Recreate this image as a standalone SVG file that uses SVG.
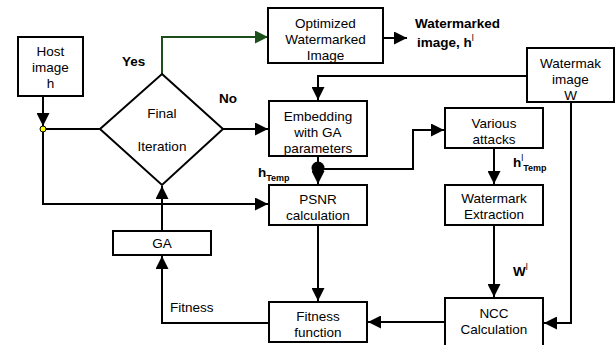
<svg xmlns="http://www.w3.org/2000/svg" width="616" height="345" viewBox="0 0 616 345">
<style>
.box{fill:#fff;stroke:#000;stroke-width:2}
.t{font-family:"Liberation Sans",Arial,sans-serif;font-size:13.5px;fill:#000;text-anchor:middle}
.b{font-family:"Liberation Sans",Arial,sans-serif;font-size:13.5px;font-weight:bold;fill:#000}
.c{fill:none;stroke:#000;stroke-width:2}
.g{fill:none;stroke:#1d4f1d;stroke-width:2}
</style>
<defs>
<marker id="ah" viewBox="0 0 13 13" refX="13" refY="6.5" markerWidth="13" markerHeight="13" markerUnits="userSpaceOnUse" orient="auto"><path d="M0,0 L13,6.5 L0,13 z" fill="#000"/></marker>
<marker id="ahg" viewBox="0 0 13 13" refX="13" refY="6.5" markerWidth="13" markerHeight="13" markerUnits="userSpaceOnUse" orient="auto"><path d="M0,0 L13,6.5 L0,13 z" fill="#1d4f1d"/></marker>
<clipPath id="clipOpt"><rect x="268" y="8" width="115" height="55"/></clipPath>
<clipPath id="clipEmb"><rect x="269" y="101" width="98" height="55"/></clipPath>
</defs>
<g id="connectors">
<path class="c" d="M43,96 V126" marker-end="url(#ah)"/>
<path class="c" d="M43,129 H100"/>
<path class="c" d="M43,129 V204 H268" marker-end="url(#ah)"/>
<path class="g" d="M162,74 V37 H268" marker-end="url(#ahg)"/>
<path class="c" d="M223,129 H268" marker-end="url(#ah)"/>
<path class="c" d="M383,38 H407" marker-end="url(#ah)"/>
<path class="c" d="M527,76 H318 V100" marker-end="url(#ah)"/>
<path class="c" d="M318,156 V184" marker-end="url(#ah)"/>
<circle cx="318" cy="168" r="6.5" fill="#000"/>
<path class="c" d="M318,169 H413 V130 H444" marker-end="url(#ah)"/>
<path class="c" d="M494,148 V184" marker-end="url(#ah)"/>
<path class="c" d="M494,225 V297" marker-end="url(#ah)"/>
<path class="c" d="M571,102 V323 H544" marker-end="url(#ah)"/>
<path class="c" d="M445,322 H368" marker-end="url(#ah)"/>
<path class="c" d="M318,225 V301" marker-end="url(#ah)"/>
<path class="c" d="M269,323 H162 V256" marker-end="url(#ah)"/>
<path class="c" d="M162,231 V186" marker-end="url(#ah)"/>
<circle cx="43" cy="129" r="3" fill="#ffff00" stroke="#000" stroke-width="1"/>
</g>
<g id="host">
<rect class="box" x="18" y="37" width="65" height="59"/>
<text class="t" x="50.5" y="56">Host</text>
<text class="t" x="50.5" y="72">image</text>
<text class="t" x="50.5" y="88">h</text>
</g>
<g id="decision">
<polygon class="box" points="162,74 223,129 162,185 100,129"/>
<text class="t" x="162" y="118">Final</text>
<text class="t" x="162" y="151">Iteration</text>
</g>
<g id="optimized">
<rect class="box" x="268" y="8" width="115" height="55"/>
<g clip-path="url(#clipOpt)">
<text class="t" x="325.5" y="28">Optimized</text>
<text class="t" x="325.5" y="44">Watermarked</text>
<text class="t" x="325.5" y="60">Image</text>
</g>
</g>
<g id="embedding">
<rect class="box" x="269" y="101" width="98" height="55"/>
<g clip-path="url(#clipEmb)">
<text class="t" x="318" y="121">Embedding</text>
<text class="t" x="318" y="137">with GA</text>
<text class="t" x="318" y="153">parameters</text>
</g>
</g>
<g id="watermak">
<rect class="box" x="527" y="48" width="87" height="54"/>
<text class="t" x="570.5" y="68">Watermak</text>
<text class="t" x="570.5" y="84">image</text>
<text class="t" x="570.5" y="100">W</text>
</g>
<g id="attacks">
<rect class="box" x="445" y="108" width="98" height="40"/>
<text class="t" x="494" y="128">Various</text>
<text class="t" x="494" y="144">attacks</text>
</g>
<g id="psnr">
<rect class="box" x="269" y="185" width="98" height="40"/>
<text class="t" x="318" y="204">PSNR</text>
<text class="t" x="318" y="220">calculation</text>
</g>
<g id="extraction">
<rect class="box" x="445" y="185" width="98" height="40"/>
<text class="t" x="494" y="203">Watermark</text>
<text class="t" x="494" y="219">Extraction</text>
</g>
<g id="ga">
<rect class="box" x="113" y="231" width="98" height="24"/>
<text class="t" x="162" y="248">GA</text>
</g>
<g id="fitness">
<rect class="box" x="269" y="302" width="98" height="40"/>
<text class="t" x="318" y="321">Fitness</text>
<text class="t" x="318" y="337">function</text>
</g>
<g id="ncc">
<rect class="box" x="445" y="298" width="98" height="52"/>
<text class="t" x="494" y="318">NCC</text>
<text class="t" x="494" y="334">Calculation</text>
</g>
<g id="labels">
<text class="b" x="122" y="66">Yes</text>
<text class="b" x="219" y="103">No</text>
<text class="b" x="415" y="28">Watermarked</text>
<text class="b" x="417" y="47">image, h<tspan font-weight="normal" font-size="9" dy="-6">l</tspan></text>
<text class="b" x="258" y="177">h<tspan font-size="9" dy="4">Temp</tspan></text>
<text class="b" x="513" y="167">h<tspan font-weight="normal" font-size="9" dy="-6">l</tspan><tspan font-size="9" dy="10">Temp</tspan></text>
<text class="b" x="513" y="276">W<tspan font-weight="normal" font-size="9" dy="-6">l</tspan></text>
<text class="t" x="170" y="312" style="text-anchor:start">Fitness</text>
</g>
</svg>
